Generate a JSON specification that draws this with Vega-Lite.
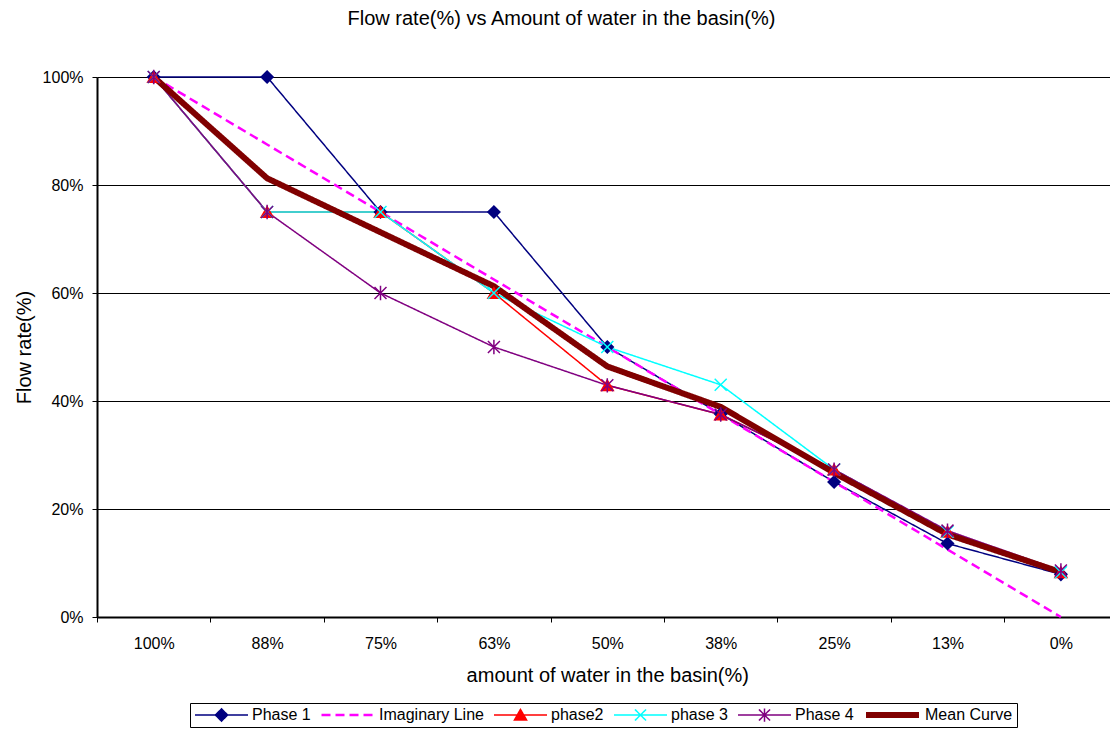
{
  "$schema": "https://vega.github.io/schema/vega-lite/v6.json",
  "width": 1013,
  "height": 540,
  "autosize": {"type": "none"},
  "padding": {"left": 97, "top": 77, "right": 0, "bottom": 114},
  "title": {
    "text": "Flow rate(%) vs Amount of water in the basin(%)",
    "fontSize": 20,
    "fontWeight": "normal",
    "color": "black",
    "anchor": "middle",
    "frame": "group",
    "dx": -42,
    "offset": 38
  },
  "data": {
    "values": [
      {"water": "100%", "rate": 100, "series": "Phase 1"},
      {"water": "88%", "rate": 100, "series": "Phase 1"},
      {"water": "75%", "rate": 75, "series": "Phase 1"},
      {"water": "63%", "rate": 75, "series": "Phase 1"},
      {"water": "50%", "rate": 50, "series": "Phase 1"},
      {"water": "38%", "rate": 37.6, "series": "Phase 1"},
      {"water": "25%", "rate": 25, "series": "Phase 1"},
      {"water": "13%", "rate": 13.6, "series": "Phase 1"},
      {"water": "0%", "rate": 7.9, "series": "Phase 1"},
      {"water": "100%", "rate": 100, "series": "Imaginary Line"},
      {"water": "88%", "rate": 87.5, "series": "Imaginary Line"},
      {"water": "75%", "rate": 75, "series": "Imaginary Line"},
      {"water": "63%", "rate": 62.5, "series": "Imaginary Line"},
      {"water": "50%", "rate": 50, "series": "Imaginary Line"},
      {"water": "38%", "rate": 37.5, "series": "Imaginary Line"},
      {"water": "25%", "rate": 25, "series": "Imaginary Line"},
      {"water": "13%", "rate": 12.5, "series": "Imaginary Line"},
      {"water": "0%", "rate": 0, "series": "Imaginary Line"},
      {"water": "100%", "rate": 100, "series": "phase2"},
      {"water": "88%", "rate": 75, "series": "phase2"},
      {"water": "75%", "rate": 75, "series": "phase2"},
      {"water": "63%", "rate": 60, "series": "phase2"},
      {"water": "50%", "rate": 42.9, "series": "phase2"},
      {"water": "38%", "rate": 37.5, "series": "phase2"},
      {"water": "25%", "rate": 27.3, "series": "phase2"},
      {"water": "13%", "rate": 15.8, "series": "phase2"},
      {"water": "0%", "rate": 8.3, "series": "phase2"},
      {"water": "100%", "rate": 100, "series": "phase 3"},
      {"water": "88%", "rate": 75, "series": "phase 3"},
      {"water": "75%", "rate": 75, "series": "phase 3"},
      {"water": "63%", "rate": 60, "series": "phase 3"},
      {"water": "50%", "rate": 50, "series": "phase 3"},
      {"water": "38%", "rate": 43, "series": "phase 3"},
      {"water": "25%", "rate": 27.3, "series": "phase 3"},
      {"water": "13%", "rate": 15.8, "series": "phase 3"},
      {"water": "0%", "rate": 8.3, "series": "phase 3"},
      {"water": "100%", "rate": 100, "series": "Phase 4"},
      {"water": "88%", "rate": 75, "series": "Phase 4"},
      {"water": "75%", "rate": 60, "series": "Phase 4"},
      {"water": "63%", "rate": 50, "series": "Phase 4"},
      {"water": "50%", "rate": 42.9, "series": "Phase 4"},
      {"water": "38%", "rate": 37.5, "series": "Phase 4"},
      {"water": "25%", "rate": 27.3, "series": "Phase 4"},
      {"water": "13%", "rate": 16.0, "series": "Phase 4"},
      {"water": "0%", "rate": 8.6, "series": "Phase 4"},
      {"water": "100%", "rate": 100, "series": "Mean Curve"},
      {"water": "88%", "rate": 81.25, "series": "Mean Curve"},
      {"water": "75%", "rate": 71.25, "series": "Mean Curve"},
      {"water": "63%", "rate": 61.25, "series": "Mean Curve"},
      {"water": "50%", "rate": 46.4, "series": "Mean Curve"},
      {"water": "38%", "rate": 38.9, "series": "Mean Curve"},
      {"water": "25%", "rate": 26.7, "series": "Mean Curve"},
      {"water": "13%", "rate": 15.3, "series": "Mean Curve"},
      {"water": "0%", "rate": 8.3, "series": "Mean Curve"}
    ]
  },
  "encoding": {
    "x": {
      "field": "water",
      "type": "ordinal",
      "bandPosition": 0.5,
      "scale": {
        "type": "band",
        "domain": ["100%", "88%", "75%", "63%", "50%", "38%", "25%", "13%", "0%"],
        "range": [0, 1020.6],
        "paddingInner": 0,
        "paddingOuter": 0
      },
      "axis": {
        "title": "amount of water in the basin(%)",
        "titleFontSize": 20,
        "titleFontWeight": "normal",
        "titleColor": "black",
        "labelFontSize": 16,
        "labelColor": "black",
        "labelAngle": 0,
        "tickBand": "extent",
        "tickSize": 5,
        "tickColor": "black",
        "domainColor": "black",
        "domainWidth": 2,
        "labelPadding": 13,
        "titlePadding": 14,
        "grid": false
      }
    },
    "y": {
      "field": "rate",
      "type": "quantitative",
      "scale": {"domain": [0, 100], "nice": false},
      "axis": {
        "title": "Flow rate(%)",
        "titleFontSize": 20,
        "titleFontWeight": "normal",
        "titleColor": "black",
        "titlePadding": 8,
        "values": [0, 20, 40, 60, 80, 100],
        "labelExpr": "datum.value + '%'",
        "labelFontSize": 16,
        "labelColor": "black",
        "labelPadding": 9,
        "tickSize": 5,
        "tickColor": "black",
        "domainColor": "black",
        "domainWidth": 2,
        "grid": true,
        "gridColor": "black",
        "gridOpacity": 1,
        "gridWidth": 1
      }
    }
  },
  "layer": [
    {
      "mark": {"type": "line", "strokeJoin": "round"},
      "encoding": {
        "color": {
          "field": "series",
          "type": "nominal",
          "scale": {
            "domain": ["Phase 1", "Imaginary Line", "phase2", "phase 3", "Phase 4", "Mean Curve"],
            "range": ["#000080", "#FF00FF", "#FF0000", "#00FFFF", "#800080", "#800000"]
          },
          "legend": {
            "title": null,
            "orient": "none",
            "legendX": 93,
            "legendY": 626,
            "direction": "horizontal",
            "strokeColor": "black",
            "padding": 4,
            "symbolSize": 2809,
            "clipHeight": 16,
            "labelFontSize": 16,
            "labelColor": "black",
            "labelOffset": 3,
            "columnPadding": 9,
            "encode": {
              "symbols": {
                "update": {
                  "shape": {"signal": "datum.value === 'Phase 1' ? 'M-1,0L1,0M0,-0.23L0.23,0L0,0.23L-0.23,0Z' : datum.value === 'phase2' ? 'M-1,0L1,0M0,-0.21L0.23,0.19L-0.23,0.19Z' : datum.value === 'phase 3' ? 'M-1,0L1,0M-0.21,-0.21L0.21,0.21M-0.21,0.21L0.21,-0.21' : datum.value === 'Phase 4' ? 'M-1,0L1,0M-0.21,-0.21L0.21,0.21M-0.21,0.21L0.21,-0.21M0,-0.25L0,0.25' : 'M-1,0L1,0'"},
                  "strokeWidth": {"signal": "datum.value === 'Mean Curve' ? 6 : datum.value === 'Imaginary Line' ? 2.5 : 1.5"},
                  "strokeDash": {"signal": "datum.value === 'Imaginary Line' ? [9, 5] : [1, 0]"},
                  "fill": {"scale": "color", "field": "value"},
                  "stroke": {"scale": "color", "field": "value"},
                  "opacity": {"value": 1}
                }
              }
            }
          }
        },
        "strokeDash": {
          "field": "series",
          "type": "nominal",
          "scale": {
            "type": "ordinal",
            "domain": ["Phase 1", "Imaginary Line", "phase2", "phase 3", "Phase 4", "Mean Curve"],
            "range": [[1, 0], [9, 5], [1, 0], [1, 0], [1, 0], [1, 0]]
          },
          "legend": null
        },
        "strokeWidth": {
          "field": "series",
          "type": "nominal",
          "scale": {
            "type": "ordinal",
            "domain": ["Phase 1", "Imaginary Line", "phase2", "phase 3", "Phase 4", "Mean Curve"],
            "range": [1.5, 2.5, 1.5, 1.5, 1.5, 6]
          },
          "legend": null
        }
      }
    },
    {
      "transform": [
        {"filter": {"field": "series", "oneOf": ["Phase 1", "phase2", "phase 3", "Phase 4"]}}
      ],
      "mark": {"type": "point", "filled": true, "size": 144, "strokeWidth": 1.5, "opacity": 1},
      "encoding": {
        "fill": {
          "field": "series",
          "type": "nominal",
          "scale": {
            "domain": ["Phase 1", "phase2", "phase 3", "Phase 4"],
            "range": ["#000080", "#FF0000", "#00FFFF", "#800080"]
          },
          "legend": null
        },
        "stroke": {
          "field": "series",
          "type": "nominal",
          "scale": {
            "domain": ["Phase 1", "phase2", "phase 3", "Phase 4"],
            "range": ["#000080", "#FF0000", "#00FFFF", "#800080"]
          },
          "legend": null
        },
        "shape": {
          "field": "series",
          "type": "nominal",
          "scale": {
            "domain": ["Phase 1", "phase2", "phase 3", "Phase 4"],
            "range": ["diamond", "triangle-up", "M-1,-1L1,1M-1,1L1,-1", "M-1,-1L1,1M-1,1L1,-1M0,-1.2L0,1.2"]
          },
          "legend": null
        }
      }
    }
  ],
  "config": {
    "font": "Liberation Sans",
    "view": {"stroke": null}
  }
}
